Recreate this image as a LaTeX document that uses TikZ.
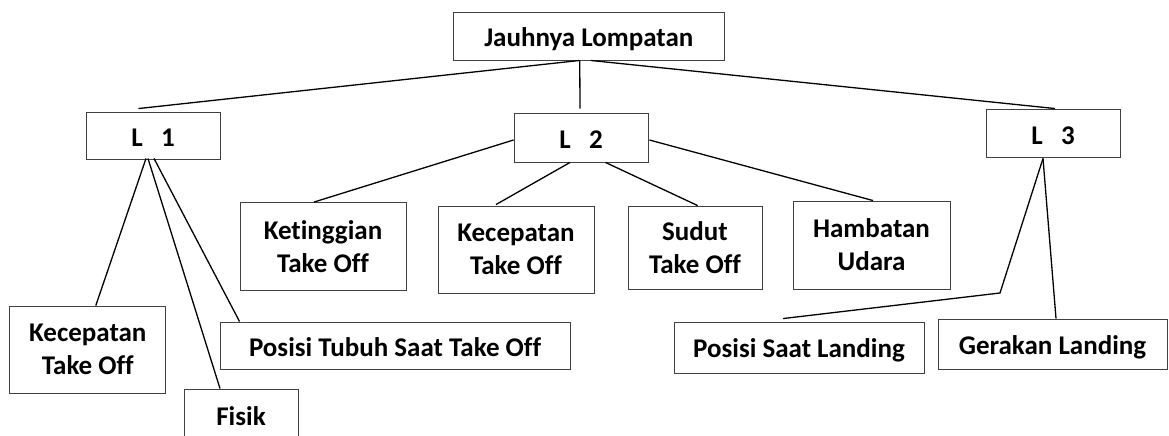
\documentclass[tikz,border=0pt]{standalone}
\usepackage{fontspec}
\setmainfont{Carlito}[Ligatures=NoCommon]
\usetikzlibrary{calc}
\begin{document}
\begin{tikzpicture}[x=1pt,y=-1pt,
  box/.style={draw=black!75,line width=0.9pt,rectangle,inner sep=0pt,align=center,
    font=\fontsize{27}{33}\selectfont\bfseries},
  oneline/.style={text height=22pt,text depth=0pt},
  link/.style={draw=black,line width=1.3pt}]
\useasboundingbox (0,0) rectangle (1169,436);
\clip (0,0) rectangle (1169,436);
% nodes
\node[box,oneline,minimum width=271pt,minimum height=48pt] (top) at (588.75,36) {Jauhnya Lompatan};
\node[box,oneline,minimum width=134pt,minimum height=47pt] (l1) at (153,135.5) {L~~~1};
\node[box,oneline,minimum width=134pt,minimum height=49pt] (l2) at (581,137.5) {L~~~2};
\node[box,oneline,minimum width=134pt,minimum height=48pt] (l3) at (1053,133) {L~~~3};
\node[box,minimum width=166pt,minimum height=88pt] (ket) at (323,246.5) {Ketinggian\\Take Off};
\node[box,minimum width=156pt,minimum height=87pt] (kec2) at (516,249.5) {Kecepatan\\Take Off};
\node[box,minimum width=134pt,minimum height=83pt] (sud) at (695,247.5) {Sudut\\Take Off};
\node[box,minimum width=157pt,minimum height=88pt] (ham) at (871.5,245) {Hambatan\\Udara};
\node[box,minimum width=156pt,minimum height=87pt] (kec1) at (87.8,349.5) {Kecepatan\\Take Off};
\node[box,oneline,minimum width=350pt,minimum height=47pt] (pos) at (395,345.5) {Posisi Tubuh Saat Take Off};
\node[box,text height=16pt,text depth=0pt,minimum width=114pt,minimum height=56pt] (fis) at (241,417) {Fisik};
\node[box,text height=19pt,text depth=0pt,minimum width=250pt,minimum height=51pt] (psl) at (799,347.5) {Posisi Saat Landing};
\node[box,text height=20pt,text depth=0pt,minimum width=229pt,minimum height=50pt] (ger) at (1052.5,344) {Gerakan Landing};
% connectors from root
\draw[link] ($(top.south)+(-9,0)$) -- ($(l1.north)+(-14.5,-3)$);
\draw[link] ($(top.south)+(-9,0)$) -- ($(l2.north)+(-1,-4)$);
\draw[link] ($(top.south)+(2,0)$) -- ($(l3.north)+(2,0)$);
% L1
\draw[link] ($(l1.south)+(-7,-1)$) -- ($(kec1.north)+(8,0)$);
\draw[link] ($(l1.south)+(-5,-1)$) -- ($(fis.north)+(-21,0)$);
\draw[link] ($(l1.south)+(1,-1)$) -- ($(pos.north west)+(20,0)$);
% L2
\draw[link] ($(l2.west)+(0,2.5)$) -- ($(ket.north)+(-9,0)$);
\draw[link] ($(l2.south)+(-11,0)$) -- ($(kec2.north)+(-20,-1)$);
\draw[link] ($(l2.south)+(24.5,0)$) -- ($(sud.north)+(2.6,0)$);
\draw[link] ($(l2.east)+(1,2.5)$) -- ($(ham.north)+(1.5,0)$);
% L3
\coordinate (bend) at (1000,293);
\draw[link] ($(l3.south)+(-10,1)$) -- (bend) -- ($(psl.north)+(-16,-3)$);
\draw[link] ($(l3.south)+(-10,1)$) -- ($(ger.north)+(3.5,0)$);
\end{tikzpicture}
\end{document}
